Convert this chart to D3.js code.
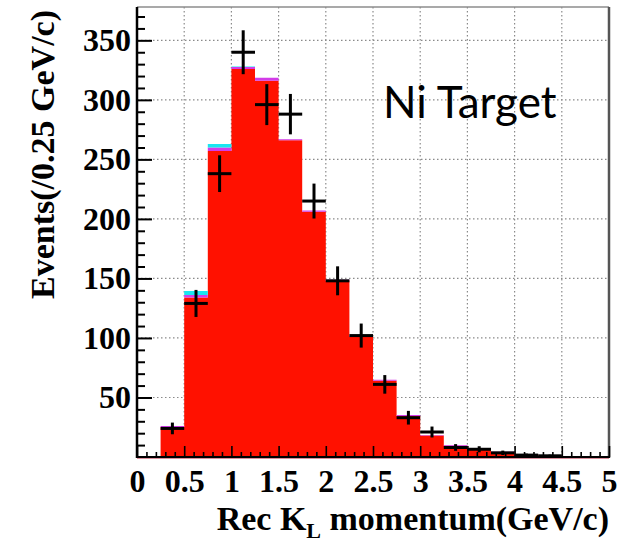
<!DOCTYPE html>
<html>
<head>
<meta charset="utf-8">
<script src="https://cdn.jsdelivr.net/npm/d3@7"></script>
<style>
  html, body { margin: 0; padding: 0; background: #fff; }
  svg { display: block; }
</style>
</head>
<body>
<svg id="chart" width="633" height="542"></svg>
<script>
// Reconstructed K_L momentum, 0.25 GeV/c bins from 0 to 5 GeV/c
const binEdges = d3.range(0, 5.0001, 0.25);
// Stacked simulation components (bottom to top)
const redCounts     = [0.8, 25, 134, 257, 326, 316, 266, 206, 148, 101, 64, 34.5, 18, 9.5, 6.5, 4, 2, 1.2, 0.8, 0.8];
const magentaCounts = [0, 1, 2, 3, 1.5, 2.5, 1, 1, 0.8, 0.8, 0.8, 0.8, 0.5, 0.5, 0.5, 0.5, 0.4, 0.3, 0, 0];
const cyanCounts    = [0, 0, 3.5, 3, 0.5, 0, 0, 0, 0, 0, 0, 0, 0, 0, 0, 0, 0, 0, 0, 0];
// Measured events per bin (null = empty bin)
const dataCounts    = [null, 24, 129, 238, 340, 296, 288, 215, 148, 102, 61, 33, 21, 8, 6.5, 3.5, 1.6, 1, null, null];

const xTickValues = [0, 0.5, 1, 1.5, 2, 2.5, 3, 3.5, 4, 4.5, 5];
const yTickValues = [50, 100, 150, 200, 250, 300, 350];
const xLabel = "Rec K";
const xLabelSub = "L";
const xLabelTail = " momentum(GeV/c)";
const yLabel = "Events(/0.25 GeV/c)";
const annotation = "Ni Target";

const svg = d3.select("#chart");
const frame = { left: 137, right: 609, top: 7, bottom: 457 };

const x = d3.scaleLinear().domain([0, 5]).range([frame.left, frame.right]);
const y = d3.scaleLinear().domain([0, 378]).range([frame.bottom, frame.top]);

const serif = "'Liberation Serif', 'Times New Roman', serif";

// Dotted grid at the major divisions
const grid = svg.append("g").attr("stroke", "#8a8a8a").attr("stroke-width", 1.2)
  .attr("stroke-dasharray", "1.5,2.5");
grid.selectAll("line.gx").data(xTickValues.slice(1, -1)).join("line")
  .attr("x1", d => x(d)).attr("x2", d => x(d))
  .attr("y1", frame.top).attr("y2", frame.bottom);
grid.selectAll("line.gy").data(yTickValues).join("line")
  .attr("x1", frame.left).attr("x2", frame.right)
  .attr("y1", d => y(d)).attr("y2", d => y(d));

// Stacked histogram, each component drawn as one stepped band
const bins = redCounts.map((r, i) => ({
  x0: binEdges[i], x1: binEdges[i + 1],
  red: r, mag: magentaCounts[i], cyan: cyanCounts[i]
}));
const layers = [
  { color: "#ff1100", lo: d => 0, hi: d => d.red },
  { color: "#d23ce8", lo: d => d.red, hi: d => d.red + d.mag },
  { color: "#19e6f0", lo: d => d.red + d.mag, hi: d => d.red + d.mag + d.cyan }
];
layers.forEach(L => {
  const pts = bins.map(d => ({ e: d.x0, lo: L.lo(d), hi: L.hi(d) }));
  const last = bins[bins.length - 1];
  pts.push({ e: last.x1, lo: L.lo(last), hi: L.hi(last) });
  const band = d3.area()
    .curve(d3.curveStepAfter)
    .x(d => x(d.e))
    .y0(d => y(d.lo))
    .y1(d => y(d.hi));
  svg.append("path").attr("d", band(pts)).attr("fill", L.color);
});
// Thin dark-red base line of the red histogram
svg.append("line")
  .attr("x1", x(0)).attr("x2", x(5))
  .attr("y1", y(0) + 0.5).attr("y2", y(0) + 0.5)
  .attr("stroke", "#b8203a").attr("stroke-width", 2);

// Data points with statistical error bars
const pts = dataCounts.map((v, i) => ({ v, xc: (binEdges[i] + binEdges[i + 1]) / 2, x0: binEdges[i], x1: binEdges[i + 1] }))
  .filter(d => d.v !== null);
const pg = svg.append("g").attr("stroke", "#000").attr("stroke-width", 3);
pg.selectAll("line.h").data(pts).join("line")
  .attr("x1", d => x(d.x0)).attr("x2", d => x(d.x1))
  .attr("y1", d => y(d.v)).attr("y2", d => y(d.v));
pg.selectAll("line.v").data(pts).join("line")
  .attr("x1", d => x(d.xc)).attr("x2", d => x(d.xc))
  .attr("y1", d => y(d.v + Math.sqrt(d.v))).attr("y2", d => y(Math.max(0, d.v - Math.sqrt(d.v))));

// Frame
svg.append("line").attr("x1", frame.left).attr("x2", frame.right).attr("y1", frame.top).attr("y2", frame.top)
  .attr("stroke", "#8c8c8c").attr("stroke-width", 1.5);
svg.append("line").attr("x1", frame.right).attr("x2", frame.right).attr("y1", frame.top).attr("y2", frame.bottom + 1)
  .attr("stroke", "#555").attr("stroke-width", 2.5);

// Left axis: inward ticks, major every 50 and minor every 10
const yAxis = d3.axisLeft(y).tickValues(yTickValues).tickSize(-15).tickPadding(6)
  .tickFormat(d3.format("d"));
const yMinor = d3.axisLeft(y).tickValues(d3.range(10, 378, 10).filter(v => v % 50 !== 0))
  .tickSize(-8).tickFormat("");
const gyMinor = svg.append("g").attr("transform", `translate(${frame.left},0)`).call(yMinor);
const gy = svg.append("g").attr("transform", `translate(${frame.left},0)`).call(yAxis);
[gy, gyMinor].forEach(g => {
  g.select(".domain").remove();
  g.selectAll(".tick line").attr("stroke", "#000").attr("stroke-width", 2);
});
gy.selectAll(".tick text")
  .attr("font-family", serif).attr("font-weight", "bold").attr("font-size", 32)
  .attr("fill", "#000");
svg.append("line").attr("x1", frame.left).attr("x2", frame.left).attr("y1", frame.top).attr("y2", frame.bottom + 1)
  .attr("stroke", "#000").attr("stroke-width", 2.5);

// Bottom axis: inward ticks, major every 0.5 and minor every 0.1
const xAxis = d3.axisBottom(x).tickValues(xTickValues).tickSize(-11).tickPadding(12)
  .tickFormat(d => d3.format("")(d));
const xMinor = d3.axisBottom(x).tickValues(d3.range(0.1, 5, 0.1).filter(v => Math.abs(v * 2 - Math.round(v * 2)) > 1e-6))
  .tickSize(-5).tickFormat("");
const gxMinor = svg.append("g").attr("transform", `translate(0,${frame.bottom})`).call(xMinor);
const gx = svg.append("g").attr("transform", `translate(0,${frame.bottom})`).call(xAxis);
[gx, gxMinor].forEach(g => {
  g.select(".domain").remove();
  g.selectAll(".tick line").attr("stroke", "#000").attr("stroke-width", 1.6);
});
gx.selectAll(".tick text")
  .attr("font-family", serif).attr("font-weight", "bold").attr("font-size", 32)
  .attr("fill", "#000");
svg.append("line").attr("x1", frame.left - 1).attr("x2", frame.right + 1).attr("y1", frame.bottom).attr("y2", frame.bottom)
  .attr("stroke", "#000").attr("stroke-width", 2);

// Axis titles
const xt = svg.append("text")
  .attr("x", frame.right).attr("y", 530)
  .attr("text-anchor", "end")
  .attr("font-family", serif).attr("font-weight", "bold").attr("font-size", 34)
  .attr("fill", "#000");
xt.append("tspan").text(xLabel);
xt.append("tspan").attr("font-size", 22).attr("dy", 8).text(xLabelSub);
xt.append("tspan").attr("dy", -8).text(xLabelTail);

svg.append("text")
  .attr("transform", `translate(54,${frame.top + 3}) rotate(-90)`)
  .attr("text-anchor", "end")
  .attr("font-family", serif).attr("font-weight", "bold").attr("font-size", 34)
  .attr("fill", "#000")
  .text(yLabel);

// Target annotation
svg.append("text")
  .attr("x", 383).attr("y", 118)
  .attr("font-family", "Lato, 'Open Sans', sans-serif").attr("font-size", 44)
  .attr("fill", "#000")
  .text(annotation);
</script>
</body>
</html>
